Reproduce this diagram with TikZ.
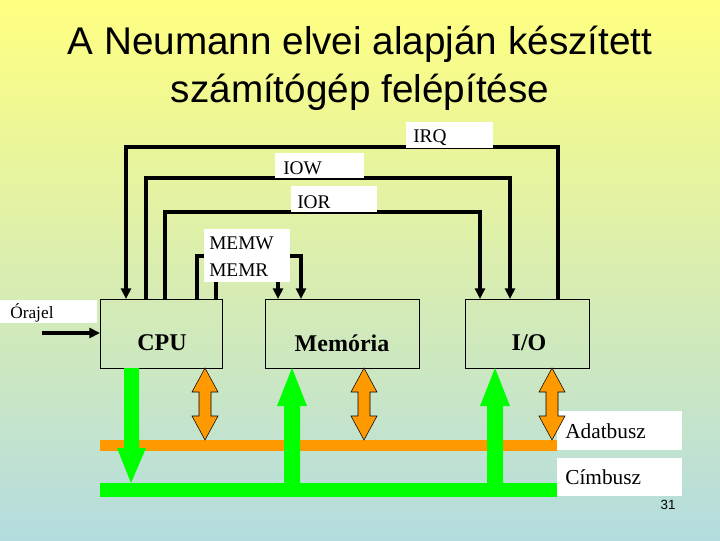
\documentclass[tikz,border=0pt]{standalone}
\usepackage{fontspec}
\setmainfont{Liberation Serif}
\newfontfamily\arialf{Liberation Sans}
\usetikzlibrary{arrows.meta}
\definecolor{bgtop}{HTML}{FFFF80}
\definecolor{bgbot}{HTML}{B4DCE0}
\definecolor{busor}{HTML}{FF9900}
\definecolor{busgr}{HTML}{00FF00}
\begin{document}
\begin{tikzpicture}[x=0.75pt,y=-0.75pt,
  ltxt/.style={font=\fontsize{14.5}{16}\selectfont,anchor=west,inner sep=0pt},
  utxt/.style={font=\fontsize{18}{20}\selectfont\bfseries},
  unit/.style={draw=black,line width=0.4pt,minimum height=51.75pt,anchor=north west},
  wire/.style={line width=2.4pt},
  wa/.style={wire,-{Triangle[length=8pt,width=7.5pt]}},
  dbl/.style={fill=busor,draw=black,line width=0.4pt},
  grn/.style={fill=busgr,draw=none}]
\shade[top color=bgtop,bottom color=bgbot] (0,0) rectangle (720,540);
\useasboundingbox (0,0) rectangle (720,540);
\node[font=\arialf\fontsize{29}{36}\selectfont,align=center] (title) at (360,68) {A Neumann elvei alapján készített\\számítógép felépítése};
% units
\node[unit,minimum width=91.5pt] (cpu) at (100,299) {};
\node[utxt] (cput) at (162,343) {CPU};
\node[unit,minimum width=115.5pt] (mem) at (265,299) {};
\node[utxt] (memt) at (342,343) {Memória};
\node[unit,minimum width=93pt] (io) at (465,299) {};
\node[utxt] (iot) at (529,343) {I/O};
% clock
\fill[white] (0,300) rectangle (97,323);
\node[ltxt,font=\fontsize{13}{15}\selectfont] (ora) at (10,313) {Órajel};
\coordinate (oraS) at (42,333);
\draw[wa] (oraS) -- (cpu.west |- oraS);
% wires
\draw[wa] (558,299) |- (126,147) -- (126,299);
\draw[wa] (146,299) |- (510,178) -- (510,299);
\draw[wa] (165,299) |- (480,212) -- (480,299);
\draw[wa] (197,299) |- (301,256) -- (301,299);
\draw[wire] (216,299) -- (216,282);
\draw[wa] (278,282) -- (278,299);
% label boxes over wires
\fill[white] (406,122) rectangle (493,148);
\node[ltxt] (irq) at (413,138) {IRQ};
\fill[white] (275,153) rectangle (364,178);
\node[ltxt] (iow) at (283,168) {IOW};
\fill[white] (291,186) rectangle (377,212);
\node[ltxt] (ior) at (297,202) {IOR};
\fill[white] (204,229) rectangle (290,282);
\node[ltxt] (memw) at (209,243) {MEMW};
\node[ltxt] (memr) at (209,270) {MEMR};
% buses
\fill[busor] (100,440) rectangle (557,451);
\fill[busgr] (100,483) rectangle (557,497);
\fill[white] (557,411) rectangle (682,450);
\node[ltxt,font=\fontsize{16}{18}\selectfont] (adat) at (565,431) {Adatbusz};
\fill[white] (557,458) rectangle (682,496);
\node[ltxt,font=\fontsize{16}{18}\selectfont] (cim) at (565,477) {Címbusz};
% green arrows
\fill[grn] (124,368) -- (139,368) -- (139,448) -- (146,448) -- (131,483) -- (117,448) -- (124,448) -- cycle;
\foreach \cx in {292,495} {
 \fill[grn] (\cx-8,483) -- (\cx-8,406) -- (\cx-15,406) -- (\cx,368) -- (\cx+15,406) -- (\cx+8,406) -- (\cx+8,483) -- cycle;}
% orange double arrows
\foreach \cx in {205,364,552} {
 \filldraw[dbl] (\cx,368) -- (\cx+13,392) -- (\cx+6,392) -- (\cx+6,416) -- (\cx+13,416) -- (\cx,440) -- (\cx-13,416) -- (\cx-6,416) -- (\cx-6,392) -- (\cx-13,392) -- cycle;}
\node[font=\arialf\fontsize{10}{12}\selectfont] (pg) at (668,505) {31};
\end{tikzpicture}
\end{document}
